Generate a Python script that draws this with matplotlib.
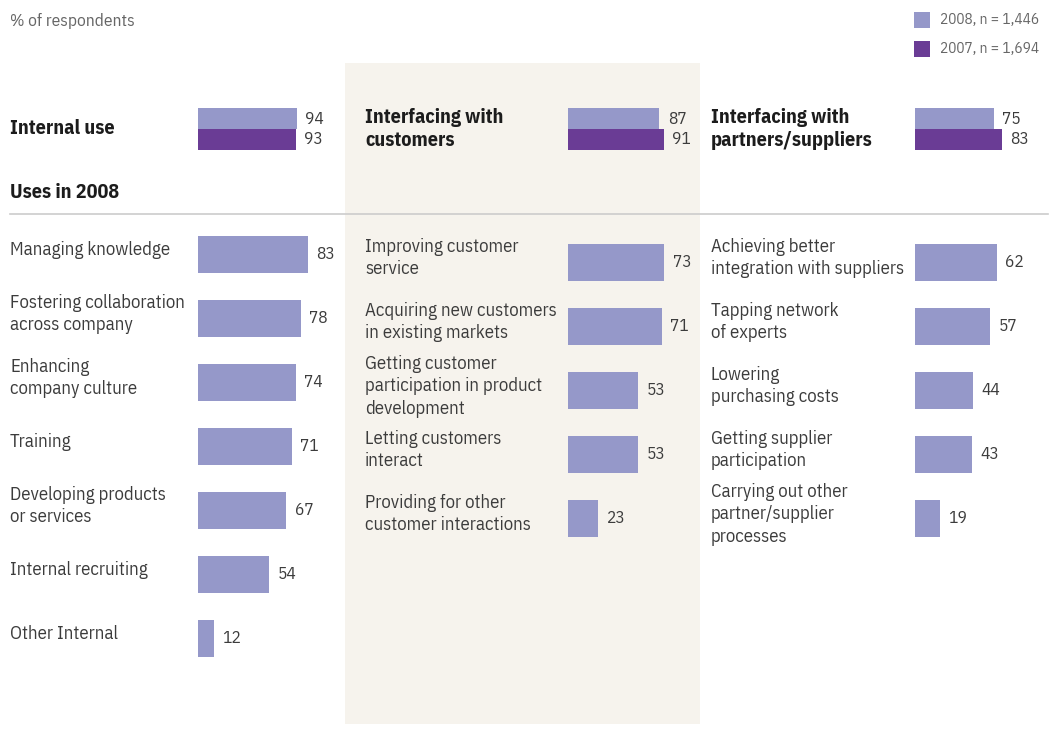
import matplotlib
matplotlib.use("Agg")
import matplotlib.pyplot as plt
from matplotlib.patches import Rectangle
from matplotlib.transforms import blended_transform_factory
from matplotlib import font_manager

# ---------------- data ----------------
summary_titles = ["Internal use", "Interfacing with\ncustomers", "Interfacing with\npartners/suppliers"]
summary_2008 = [94, 87, 75]
summary_2007 = [93, 91, 83]

internal_labels = ["Managing knowledge", "Fostering collaboration\nacross company",
                   "Enhancing\ncompany culture", "Training",
                   "Developing products\nor services", "Internal recruiting", "Other Internal"]
internal_values = [83, 78, 74, 71, 67, 54, 12]

customer_labels = ["Improving customer\nservice", "Acquiring new customers\nin existing markets",
                   "Getting customer\nparticipation in product\ndevelopment",
                   "Letting customers\ninteract", "Providing for other\ncustomer interactions"]
customer_values = [73, 71, 53, 53, 23]

partner_labels = ["Achieving better\nintegration with suppliers", "Tapping network\nof experts",
                  "Lowering\npurchasing costs", "Getting supplier\nparticipation",
                  "Carrying out other\npartner/supplier\nprocesses"]
partner_values = [62, 57, 44, 43, 19]

legend_labels = ["2008, n = 1,446", "2007, n = 1,694"]

# ---------------- style ----------------
C08 = "#9598c9"
C07 = "#6a3c95"
BG = "#f6f3ed"
TXT = "#3c3c3c"
BOLD = "#1c1c1c"
GRAY = "#666666"

avail = {f.name for f in font_manager.fontManager.ttflist}
FAM = None
for cand in ["IBM Plex Sans Condensed", "Roboto Condensed", "Liberation Sans Narrow"]:
    if cand in avail:
        FAM = cand
        break
if FAM is not None:
    plt.rcParams["font.family"] = [FAM, "DejaVu Sans"]
    FS, FSB, FSV, FSS = 13.5, 14.5, 12.5, 11
else:
    plt.rcParams["font.family"] = ["DejaVu Sans"]
    FS, FSB, FSV, FSS = 11, 12, 11, 9.5

W, H = 1050, 741
fig = plt.figure(figsize=(W / 100, H / 100), dpi=100)
fig.patch.set_facecolor("white")


def fx(x):
    return x / W


def fy(y):
    return 1 - y / H


def make_ax(x0, y0, w, h):
    ax = fig.add_axes([fx(x0), fy(y0 + h), w / W, h / H])
    ax.set_axis_off()
    return ax


# middle panel background
fig.patches.append(Rectangle((fx(345), fy(724)), (700 - 345) / W, (724 - 63) / H,
                             transform=fig.transFigure, facecolor=BG, edgecolor="none", zorder=-5))

# separator line
fig.add_artist(plt.Line2D([fx(10), fx(1048)], [fy(213.5), fy(213.5)], transform=fig.transFigure,
                          color="#cccccc", lw=1.2, zorder=-1))

# header texts
fig.text(fx(10), fy(21), "% of respondents", fontsize=FSS + 1.5, color=GRAY, va="center", ha="left")
fig.text(fx(10), fy(192), "Uses in 2008", fontsize=FSB, color=BOLD, fontweight="bold",
         va="center", ha="left")

# legend
for i, (lab, col) in enumerate(zip(legend_labels, [C08, C07])):
    yc = 20 + 29 * i
    fig.patches.append(Rectangle((fx(914), fy(yc + 8)), 16 / W, 16 / H, transform=fig.transFigure,
                                 facecolor=col, edgecolor="none"))
    fig.text(fx(940), fy(yc), lab, fontsize=FSS, color=GRAY, va="center", ha="left")

# ---------------- summary (top) bars ----------------
TOP_SCALE = 1.05  # px per percentage point
top_x = [198, 568, 915]
title_x = [10, 365, 711]
for k in range(3):
    ax = make_ax(top_x[k], 108, 100 * TOP_SCALE, 42)
    ax.set_xlim(0, 100)
    ax.set_ylim(1.5, -0.5)
    vals = [summary_2008[k], summary_2007[k]]
    ax.barh([0, 1], vals, height=1.0, color=[C08, C07], edgecolor="none")
    for i, v in enumerate(vals):
        ax.annotate(str(v), (v, i), xytext=(6, 0), textcoords="offset points",
                    va="center", ha="left", fontsize=FSV, color=TXT)
    tr = blended_transform_factory(fig.transFigure, ax.transData)
    ax.text(fx(title_x[k]), 0.5, summary_titles[k], transform=tr, fontsize=FSB,
            fontweight="bold", color=BOLD, va="center", ha="left", linespacing=1.3,
            clip_on=False)

# ---------------- detail bars ----------------
SCALE = 1.32
ROW = 64
panels = [
    (internal_labels, internal_values, 10, 198, 254),
    (customer_labels, customer_values, 365, 568, 262),
    (partner_labels, partner_values, 711, 915, 262),
]
for labels, vals, lx, bx, y0 in panels:
    n = 7
    ax = make_ax(bx, y0 - ROW / 2, 100 * SCALE, n * ROW)
    ax.set_xlim(0, 100)
    ax.set_ylim(n - 0.5, -0.5)
    ypos = list(range(len(vals)))
    ax.barh(ypos, vals, height=37 / ROW, color=C08, edgecolor="none")
    tr = blended_transform_factory(fig.transFigure, ax.transData)
    for i, (lab, v) in enumerate(zip(labels, vals)):
        ax.annotate(str(v), (v, i), xytext=(6, 0), textcoords="offset points",
                    va="center", ha="left", fontsize=FSV, color=TXT)
        ax.text(fx(lx), i - 0.06, lab, transform=tr, fontsize=FS, color=TXT, va="center",
                ha="left", linespacing=1.32, clip_on=False)

fig.savefig("out.png", dpi=100, facecolor="white")
